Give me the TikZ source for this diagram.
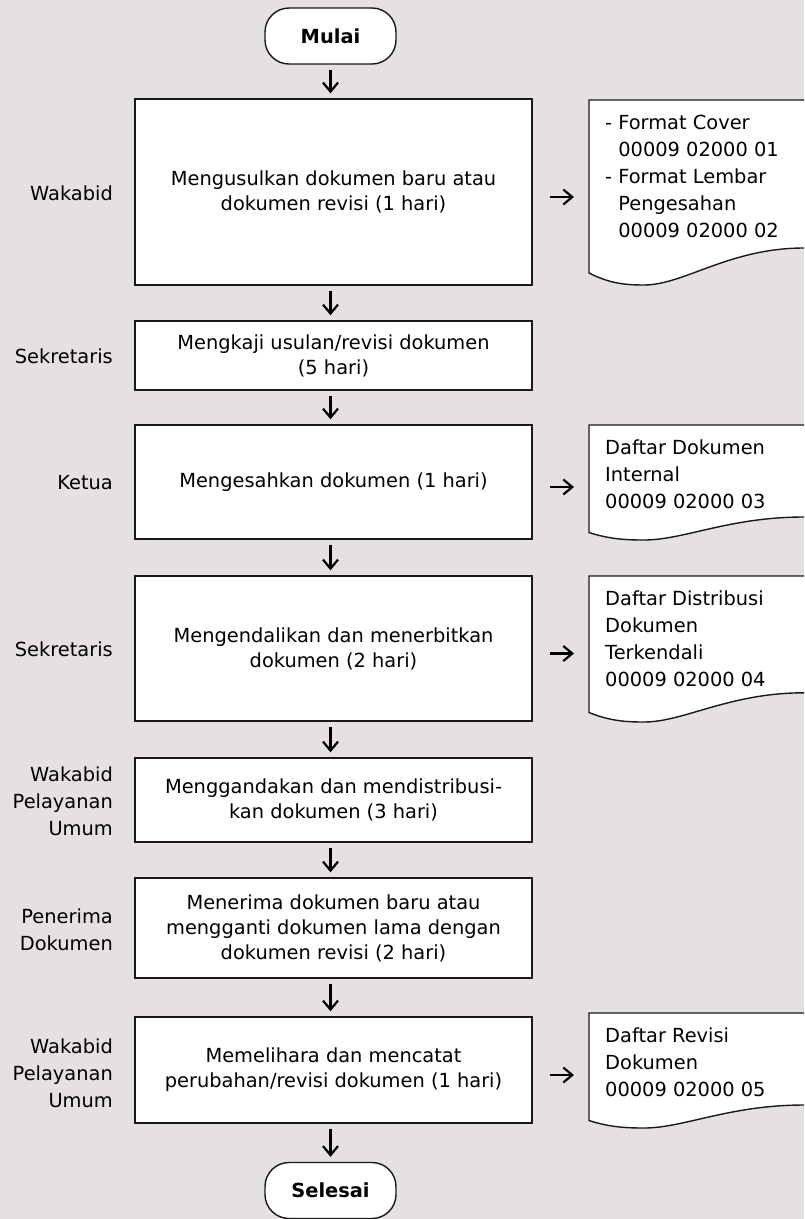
\documentclass[tikz,border=0pt]{standalone}
\usepackage{fontspec}
\setmainfont{DejaVu Sans}
\usepackage{xcolor}
\usetikzlibrary{arrows.meta}

\definecolor{kayu}{RGB}{228,225,224}

% dokumen: #1 nama, #2 atas, #3 tinggi, #4 isi
\newcommand{\dokumen}[4]{%
  \filldraw[garis, fill=white] (589,#2) -- (830,#2) -- (830,#2+0.80*#3) -- (804,#2+0.80*#3)
    .. controls (729,#2+0.80*#3) and (684,#2+#3) .. (644,#2+#3)
    .. controls (624,#2+#3) and (609,#2+0.99*#3) .. (589,#2+0.935*#3) -- cycle;
  \coordinate (#1) at (589,#2);
  \node[doktext] (#1t) at (605,#2+15) {#4};
}

\begin{document}
\begin{tikzpicture}[x=1pt, y=-1pt,
  kotak/.style={draw=black!90, line width=1.4pt, fill=white, minimum width=397pt, align=center, inner sep=0pt, font=\fontsize{19.4}{25}\selectfont},
  terminal/.style={draw=black!90, line width=1.4pt, fill=white, rounded corners=24pt, minimum width=131pt, minimum height=56pt, font=\fontsize{19.4}{25}\selectfont\bfseries},
  pelaku/.style={anchor=east, align=right, inner sep=0pt, font=\fontsize{19.4}{27}\selectfont},
  doktext/.style={anchor=north west, align=left, inner sep=0pt, font=\fontsize{19.4}{27}\selectfont},
  garis/.style={draw=black!90, line width=1.4pt},
  panah/.style={-{Straight Barb[length=9pt,width=15pt]}, line width=2.2pt, shorten <=5pt, shorten >=5pt},
  panahkanan/.style={panah, shorten <=17pt, shorten >=15pt}]
\useasboundingbox (0,0) rectangle (804,1219);
\clip (0,0) rectangle (804,1219);
\fill[kayu] (0,0) rectangle (804,1219);

% Terminal
\node[terminal] (mulai) at (330.5,36) {Mulai};
\node[terminal] (selesai) at (330.5,1190.5) {Selesai};

% Langkah
\node[kotak, minimum height=186pt] (b1) at (333.5,192) {Mengusulkan dokumen baru atau\\dokumen revisi (1 hari)};
\node[kotak, minimum height=69pt] (b2) at (333.5,355.5) {Mengkaji usulan/revisi dokumen\\(5 hari)};
\node[kotak, minimum height=114pt] (b3) at (333.5,482) {Mengesahkan dokumen (1 hari)};
\node[kotak, minimum height=145pt] (b4) at (333.5,648.5) {Mengendalikan dan menerbitkan\\dokumen (2 hari)};
\node[kotak, minimum height=84pt] (b5) at (333.5,800) {Menggandakan dan mendistribusi-\\kan dokumen (3 hari)};
\node[kotak, minimum height=100pt] (b6) at (333.5,928) {Menerima dokumen baru atau\\mengganti dokumen lama dengan\\dokumen revisi (2 hari)};
\node[kotak, minimum height=106pt] (b7) at (333.5,1070) {Memelihara dan mencatat\\perubahan/revisi dokumen (1 hari)};

% Pelaku
\node[pelaku] (p1) at (113,193) {Wakabid};
\node[pelaku] (p2) at (113,356) {Sekretaris};
\node[pelaku] (p3) at (113,483) {Ketua};
\node[pelaku] (p4) at (113,649) {Sekretaris};
\node[pelaku] (p5) at (113,801) {Wakabid\\Pelayanan\\Umum};
\node[pelaku] (p6) at (113,930) {Penerima\\Dokumen};
\node[pelaku] (p7) at (113,1073) {Wakabid\\Pelayanan\\Umum};

% Dokumen keluaran
\dokumen{d1}{100}{185}{- Format Cover\\\hphantom{- }00009 02000 01\\- Format Lembar\\\hphantom{- }Pengesahan\\\hphantom{- }00009 02000 02}
\dokumen{d3}{425}{115}{Daftar Dokumen\\Internal\\00009 02000 03}
\dokumen{d4}{576}{146}{Daftar Distribusi\\Dokumen\\Terkendali\\00009 02000 04}
\dokumen{d7}{1013}{115}{Daftar Revisi\\Dokumen\\00009 02000 05}

% Alur
\draw[panah] (mulai.south) -- (mulai.south |- b1.north);
\foreach \a/\b in {b1/b2, b2/b3, b3/b4, b4/b5, b5/b6, b6/b7, b7/selesai}
  \draw[panah] (\a.south -| mulai) -- (\b.north -| mulai);

\foreach \a/\d in {b1/d1, b3/d3, b4/d4, b7/d7}
  \draw[panahkanan] ([yshift=-5pt]\a.east) -- ([yshift=-5pt]\a.east -| \d);
\end{tikzpicture}
\end{document}
